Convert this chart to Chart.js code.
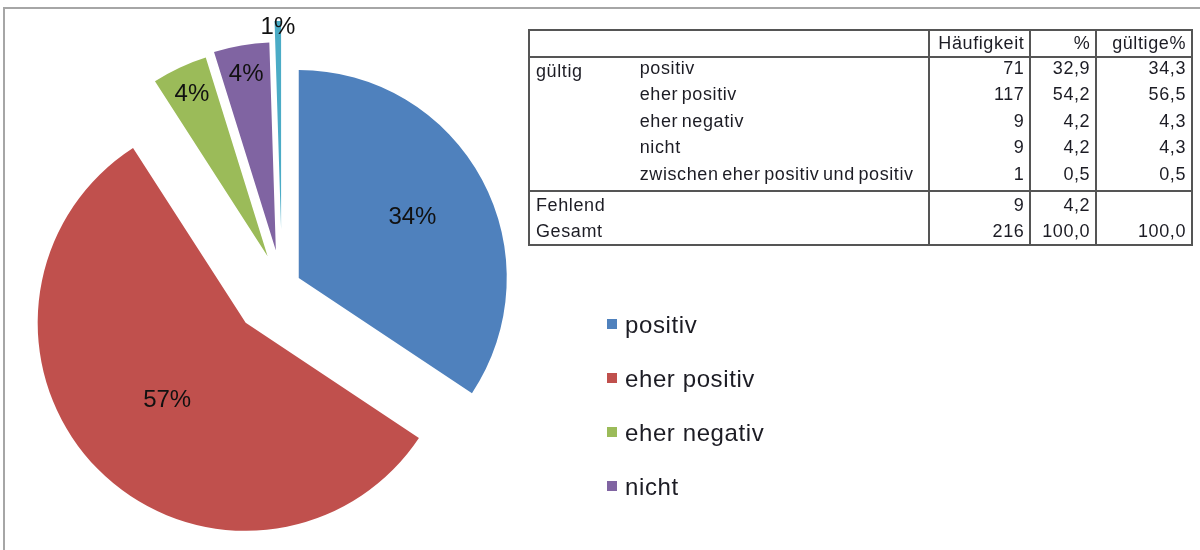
<!DOCTYPE html>
<html>
<head>
<meta charset="utf-8">
<script src="https://cdn.jsdelivr.net/npm/chart.js@4/dist/chart.umd.min.js"></script>
<style>
  html, body { margin: 0; padding: 0; background: #fff; }
  body { width: 1200px; height: 550px; position: relative; overflow: hidden; font-family: "Liberation Sans", Arial, sans-serif; }
  #frame { position: absolute; left: 3px; top: 7px; width: 1200px; height: 560px; border-top: 2px solid #a6a6a6; border-left: 2px solid #a6a6a6; }
  #pie { position: absolute; left: 0; top: 0; }
  #tbl { position: absolute; left: 528px; top: 29px; width: 665px; border-collapse: collapse; border: 2px solid #555; font-size: 18px; letter-spacing: 0.6px; word-spacing: -2px; color: #1c1c24; }
  #tbl td { padding: 0 6px 0 6px; height: 26px; line-height: 26px; white-space: nowrap; }
  #tbl td.num { text-align: right; border-left: 2px solid #555; padding-right: 5px; }
  #tbl tr.head td { border-bottom: 2px solid #555; height: 25px; line-height: 25px; }
  #tbl tr.grp td { line-height: 21px; padding-bottom: 5.4px; height: 21px; }
  #tbl tr.grp td.g { line-height: 26px; padding-bottom: 0; vertical-align: top; }
  #tbl tr.sep td { border-top: 2px solid #555; line-height: 27px; height: 27px; }
  #tbl tr.last td { height: 25px; line-height: 25px; }
  #tbl td.lab2 { padding-left: 8px; }
  #legend { position: absolute; left: 607px; top: 310px; font-size: 24px; letter-spacing: 0.6px; color: #1c1c24; }
  #legend .item { height: 54px; line-height: 30px; display: flex; align-items: flex-start; }
  #legend .box { width: 10px; height: 10px; margin-top: 9px; margin-right: 8px; }
</style>
</head>
<body>
<div id="frame"></div>
<canvas id="pie" width="1200" height="550"></canvas>
<table id="tbl"></table>
<div id="legend"></div>
<script>
// ---- data ----
const categories = ["positiv", "eher positiv", "eher negativ", "nicht", "zwischen eher positiv und positiv"];
const validPercent = [34.3, 56.5, 4.3, 4.3, 0.5];
const sliceLabels = ["34%", "57%", "4%", "4%", "1%"];
const frequency = [71, 117, 9, 9, 1];
const percent = ["32,9", "54,2", "4,2", "4,2", "0,5"];
const validPercentText = ["34,3", "56,5", "4,3", "4,3", "0,5"];
const missingRow = { label: "Fehlend", freq: 9, pct: "4,2", valid: "" };
const totalRow = { label: "Gesamt", freq: 216, pct: "100,0", valid: "100,0" };
const headers = ["Häufigkeit", "%", "gültige%"];
const groupLabel = "gültig";
const legendCount = 4;

// ---- styles ----
const colors = ["#4F81BD", "#C0504D", "#9BBB59", "#8064A2", "#4BACC6"];
const explode = [19, 51, 34, 37, 58];

function midAngle(p) { return (p.startAngle + p.endAngle) / 2; }

// draw each arc pulled out from the centre (exploded pie)
const explodePlugin = {
  id: "explode",
  beforeDatasetDraw(chart, args) {
    if (args.index !== 0) return;
    const ctx = chart.ctx;
    args.meta.data.forEach((arc, i) => {
      const p = arc.getProps(["startAngle", "endAngle"], true);
      const m = midAngle(p);
      ctx.save();
      ctx.translate(Math.cos(m) * explode[i], Math.sin(m) * explode[i]);
      arc.draw(ctx, chart.chartArea);
      ctx.restore();
    });
    return false;
  }
};

const labelPlugin = {
  id: "sliceLabels",
  afterDatasetsDraw(chart) {
    const ctx = chart.ctx;
    const meta = chart.getDatasetMeta(0);
    const total = validPercent.reduce((a, b) => a + b, 0);
    ctx.save();
    ctx.font = "24px 'Liberation Sans', Arial, sans-serif";
    ctx.fillStyle = "#111";
    ctx.textAlign = "center";
    ctx.textBaseline = "middle";
    meta.data.forEach((arc, i) => {
      const p = arc.getProps(["x", "y", "startAngle", "endAngle", "outerRadius"], true);
      const m = midAngle(p);
      const cx = p.x + Math.cos(m) * explode[i];
      const cy = p.y + Math.sin(m) * explode[i];
      const share = validPercent[i] / total;
      const frac = share > 0.5 ? 0.53 : share > 0.2 ? 0.62 : share > 0.01 ? 0.86 : 0.97;
      const r = p.outerRadius * frac;
      ctx.fillText(sliceLabels[i], cx + Math.cos(m) * r, cy + Math.sin(m) * r);
    });
    ctx.restore();
  }
};

new Chart(document.getElementById("pie"), {
  type: "pie",
  data: {
    labels: categories,
    datasets: [{
      data: validPercent,
      backgroundColor: colors,
      borderWidth: 0,
      hoverOffset: 0
    }]
  },
  options: {
    responsive: false,
    animation: false,
    radius: 208,
    layout: { padding: { left: 0, right: 636, top: 24, bottom: 0 } },
    plugins: { legend: { display: false }, tooltip: { enabled: false } },
    events: []
  },
  plugins: [explodePlugin, labelPlugin]
});

// ---- table ----
const tbl = document.getElementById("tbl");
let html = '<colgroup><col style="width:104px"><col style="width:298px"><col style="width:101px"><col style="width:66px"><col style="width:96px"></colgroup>';
html += '<tr class="head"><td></td><td></td>' + headers.map(h => '<td class="num">' + h + '</td>').join("") + '</tr>';
categories.forEach((c, i) => {
  html += '<tr class="grp"><td class="g">' + (i === 0 ? groupLabel : '') + '</td><td class="lab2">' + c + '</td><td class="num">' + frequency[i] + '</td><td class="num">' + percent[i] + '</td><td class="num">' + validPercentText[i] + '</td></tr>';
});
html += '<tr class="sep"><td colspan="2">' + missingRow.label + '</td><td class="num">' + missingRow.freq + '</td><td class="num">' + missingRow.pct + '</td><td class="num">' + missingRow.valid + '</td></tr>';
html += '<tr class="last"><td colspan="2">' + totalRow.label + '</td><td class="num">' + totalRow.freq + '</td><td class="num">' + totalRow.pct + '</td><td class="num">' + totalRow.valid + '</td></tr>';
tbl.innerHTML = html;

// ---- legend ----
const lg = document.getElementById("legend");
lg.innerHTML = categories.slice(0, legendCount).map((c, i) =>
  '<div class="item"><div class="box" style="background:' + colors[i] + '"></div><span>' + c + '</span></div>').join("");
</script>
</body>
</html>
